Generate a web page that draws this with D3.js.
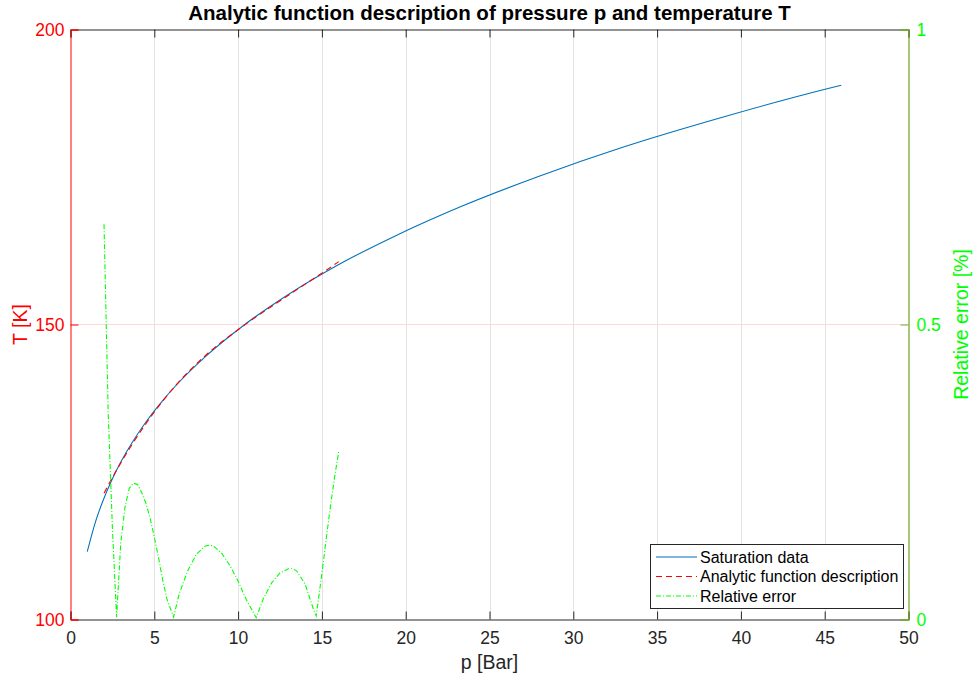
<!DOCTYPE html>
<html>
<head>
<meta charset="utf-8">
<script src="https://cdn.jsdelivr.net/npm/d3@7"></script>
<style>
  html, body { margin: 0; padding: 0; background: #fff; }
  svg { display: block; font-family: "Liberation Sans", Arial, Helvetica, sans-serif; }
</style>
</head>
<body>
<svg id="chart" width="974" height="678"></svg>
<script>
// Methane saturation curve: pressure [bar] vs temperature [K]
const satP = [1.0, 1.5, 1.92, 2.5, 3.0, 3.68, 4.5, 5.5, 6.4, 8.0, 10.4, 13.0, 15.9, 19.5, 23.3, 28.0, 32.9, 39.0, 45.2, 45.99];
const satT = [111.5, 116.64, 120.0, 123.87, 126.68, 130.0, 133.47, 137.11, 140.0, 144.43, 150.0, 155.09, 160.0, 165.19, 170.0, 175.18, 180.0, 185.22, 190.0, 190.56];

// Fitted analytic description over 2..16 bar
const fitP = [2.0, 2.5, 3.0, 3.68, 4.5, 5.5, 6.4, 8.0, 10.4, 13.0, 15.9, 16.0];
const fitT = [121.4, 124.05, 126.52, 129.7, 133.2, 137.02, 140.06, 144.61, 149.94, 154.96, 160.45, 160.65];

// Relative error between fit and data [%]
const errP = [2.0, 2.25, 2.5, 2.75, 3.0, 3.25, 3.5, 3.75, 4.0, 4.25, 4.5, 4.75, 5.0, 5.25, 5.5, 5.75, 6.15,
              6.5, 7.0, 7.5, 8.0, 8.29, 8.5, 9.0, 9.5, 10.0, 10.5, 11.08,
              11.5, 12.0, 12.5, 13.0, 13.27, 13.5, 14.0, 14.5, 14.66,
              15.0, 15.25, 15.5, 15.75, 16.0];
const errV = [0.670, 0.350, 0.155, 0.004, 0.130, 0.190, 0.222, 0.231, 0.229, 0.215, 0.197, 0.172, 0.140, 0.105, 0.067, 0.035, 0.004,
              0.045, 0.083, 0.110, 0.124, 0.126, 0.125, 0.113, 0.092, 0.065, 0.033, 0.003,
              0.035, 0.062, 0.079, 0.086, 0.086, 0.082, 0.060, 0.017, 0.006,
              0.078, 0.135, 0.190, 0.240, 0.284];

const xTicks = [0, 5, 10, 15, 20, 25, 30, 35, 40, 45, 50];
const yLeftTicks = [100, 150, 200];
const yRightTicks = [0, 0.5, 1];

const seriesNames = ["Saturation data", "Analytic function description", "Relative error"];

const svg = d3.select("#chart");
const m = { left: 70.5, right: 908.5, top: 29.5, bottom: 619.5 };

const x = d3.scaleLinear().domain([0, 50]).range([m.left, m.right]);
const yL = d3.scaleLinear().domain([100, 200]).range([m.bottom, m.top]);
const yR = d3.scaleLinear().domain([0, 1]).range([m.bottom, m.top]);

const dark = "#262626";
const leftColor = "#ff0000";
const rightColor = "#00ff00";
const rightAxisColor = "#77ac30";
const tickLen = 8;

// Grid
svg.append("g").selectAll("line").data(xTicks.slice(1, -1)).join("line")
  .attr("x1", d => Math.round(x(d)) + 0.5).attr("x2", d => Math.round(x(d)) + 0.5)
  .attr("y1", m.top).attr("y2", m.bottom)
  .attr("stroke", "#e3e3e3").attr("stroke-width", 1);
svg.append("g").selectAll("line").data(yLeftTicks.slice(1, -1)).join("line")
  .attr("x1", m.left).attr("x2", m.right)
  .attr("y1", d => yL(d)).attr("y2", d => yL(d))
  .attr("stroke", "#ffd9d9").attr("stroke-width", 1);

// Data lines
svg.append("clipPath").attr("id", "plotclip").append("rect")
  .attr("x", m.left).attr("y", m.top).attr("width", m.right - m.left).attr("height", m.bottom - m.top);
const plot = svg.append("g").attr("clip-path", "url(#plotclip)");

const lineL = d3.line().x(d => x(d[0])).y(d => yL(d[1])).curve(d3.curveMonotoneX);
const lineR = d3.line().x(d => x(d[0])).y(d => yR(d[1]));

plot.append("path").datum(d3.zip(satP, satT)).attr("d", lineL)
  .attr("fill", "none").attr("stroke", "#0072bd").attr("stroke-width", 1.1);
plot.append("path").datum(d3.zip(fitP, fitT)).attr("d", lineL)
  .attr("fill", "none").attr("stroke", "#ff0000").attr("stroke-width", 1.1)
  .attr("stroke-dasharray", "6,4");
plot.append("path").datum(d3.zip(errP, errV)).attr("d", lineR)
  .attr("fill", "none").attr("stroke", rightColor).attr("stroke-width", 1.1)
  .attr("stroke-dasharray", "5,2,1,2");

// Axes
const fs = 17.5;
const xAxisB = d3.axisBottom(x).tickValues(xTicks).tickSize(-tickLen).tickPadding(12).tickFormat(d3.format("d"));
const gx = svg.append("g").attr("transform", `translate(0,${m.bottom})`).call(xAxisB);
gx.select(".domain").attr("stroke", dark);
gx.selectAll(".tick line").attr("stroke", dark);
gx.selectAll("text").attr("fill", dark).attr("font-size", fs).attr("font-family", "Liberation Sans, Arial, sans-serif");

const xAxisT = d3.axisTop(x).tickValues(xTicks).tickSize(-tickLen).tickFormat("");
const gxt = svg.append("g").attr("transform", `translate(0,${m.top})`).call(xAxisT);
gxt.select(".domain").attr("stroke", dark);
gxt.selectAll(".tick line").attr("stroke", dark);

const yAxisL = d3.axisLeft(yL).tickValues(yLeftTicks).tickSize(-tickLen).tickPadding(6).tickFormat(d3.format("d"));
const gyl = svg.append("g").attr("transform", `translate(${m.left},0)`).call(yAxisL);
gyl.select(".domain").attr("stroke", leftColor);
gyl.selectAll(".tick line").attr("stroke", leftColor);
gyl.selectAll("text").attr("fill", leftColor).attr("font-size", fs).attr("font-family", "Liberation Sans, Arial, sans-serif");

const yAxisR = d3.axisRight(yR).tickValues(yRightTicks).tickSize(-tickLen).tickPadding(8).tickFormat(d => d === 0.5 ? "0.5" : d3.format("d")(d));
const gyr = svg.append("g").attr("transform", `translate(${m.right},0)`).call(yAxisR);
gyr.select(".domain").attr("stroke", rightAxisColor).attr("stroke-width", 1.3);
gyr.selectAll(".tick line").attr("stroke", rightAxisColor);
gyr.selectAll("text").attr("fill", rightColor).attr("font-size", fs).attr("font-family", "Liberation Sans, Arial, sans-serif");

// Titles
svg.append("text").attr("x", (m.left + m.right) / 2).attr("y", 20)
  .attr("text-anchor", "middle").attr("font-weight", "bold").attr("font-size", 20.5)
  .attr("fill", "#000").text("Analytic function description of pressure p and temperature T");

svg.append("text").attr("x", (m.left + m.right) / 2).attr("y", 669)
  .attr("text-anchor", "middle").attr("font-size", 19.5).attr("fill", dark).text("p [Bar]");

svg.append("text").attr("transform", `translate(27,${(m.top + m.bottom) / 2}) rotate(-90)`)
  .attr("text-anchor", "middle").attr("font-size", 19.5).attr("fill", leftColor).text("T [K]");

svg.append("text").attr("transform", `translate(968,${(m.top + m.bottom) / 2}) rotate(-90)`)
  .attr("text-anchor", "middle").attr("font-size", 19.5).attr("fill", rightColor).text("Relative error [%]");

// Legend
const lg = svg.append("g");
lg.append("rect").attr("x", 650.5).attr("y", 544.5).attr("width", 253).attr("height", 64)
  .attr("fill", "#fff").attr("stroke", dark).attr("stroke-width", 1);
const legendStyles = [
  { color: "#0072bd", dash: null },
  { color: "#ff0000", dash: "6,4" },
  { color: rightColor, dash: "5,2,1,2" }
];
seriesNames.forEach((name, i) => {
  const yy = 557 + i * 19.5;
  lg.append("line").attr("x1", 656).attr("x2", 697).attr("y1", yy).attr("y2", yy)
    .attr("stroke", legendStyles[i].color).attr("stroke-width", 1.1)
    .attr("stroke-dasharray", legendStyles[i].dash);
  lg.append("text").attr("x", 700).attr("y", yy + 5.5).attr("font-size", 16)
    .attr("fill", "#000").text(name);
});
</script>
</body>
</html>
